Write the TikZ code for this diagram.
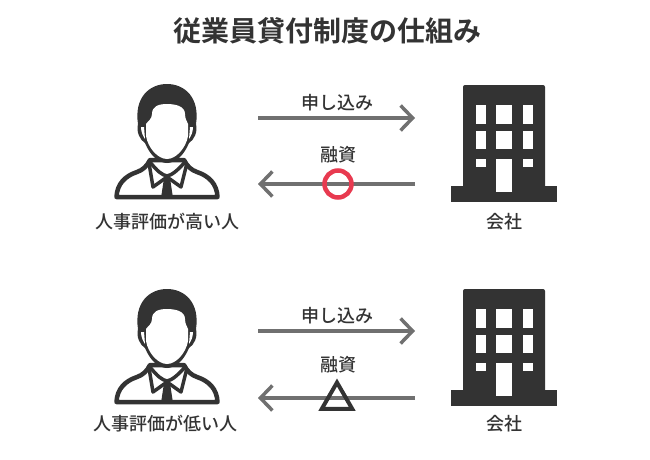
\documentclass[tikz,border=0pt]{standalone}
\usepackage{fontspec}
\setmainfont{Noto Sans CJK JP Medium}
\newfontfamily\boldjp{Noto Sans CJK JP Bold}
\usetikzlibrary{arrows.meta,shapes.geometric}
\pgfdeclarelayer{edgelayer}
\pgfdeclarelayer{nodelayer}
\pgfsetlayers{edgelayer,nodelayer,main}
\definecolor{ink}{HTML}{333333}
\definecolor{arrowgray}{HTML}{707070}
\definecolor{ringred}{HTML}{E83A50}
\tikzstyle{none}=[inner sep=0pt]
\tikzstyle{label}=[inner sep=0pt,text=ink,font=\fontsize{18}{18}\selectfont]
\tikzstyle{title}=[inner sep=0pt,text=ink,font=\boldjp\fontsize{28}{28}\selectfont]
\tikzstyle{flow}=[draw=arrowgray,line width=3.5pt,-{Straight Barb[length=12pt,width=25pt,line width=3.5pt]}]
\tikzstyle{ring}=[circle,draw=ringred,line width=4.5pt,minimum size=27pt,inner sep=0pt]
\tikzstyle{tri}=[regular polygon,regular polygon sides=3,draw=ink,line width=4pt,minimum size=35pt,inner sep=0pt]
\tikzset{
	pics/person/.style={code={
		\draw[ink,fill=white,line width=4.5pt,line join=round] (-17,76) .. controls (-20,82) and (-24,86) .. (-30,88) .. controls (-42,92) and (-50,100) .. (-50.5,113) -- (50.5,113) .. controls (50,100) and (42,92) .. (30,88) .. controls (24,86) and (20,82) .. (17,76) -- cycle;
		\draw[ink,line width=3.5pt,line join=round] (-18,79) -- (-14,103) -- (0,93) -- (14,103) -- (20,79);
		\draw[ink,line width=3.5pt] (-17,78) .. controls (-10,87) and (-5,91) .. (0,92) .. controls (5,91) and (10,87) .. (18,78);
		\fill[ink] (-3,94) -- (3,94) -- (6,114) -- (-6,114) -- cycle;
		\fill[ink] (-29,40) .. controls (-33,14) and (-18,0) .. (0,0) .. controls (18,0) and (33,14) .. (29,40) .. controls (31,48) and (27,56) .. (22,59) .. controls (17,71) and (9,79) .. (0,79) .. controls (-9,79) and (-17,71) .. (-22,59) .. controls (-27,56) and (-31,48) .. (-29,40) -- cycle;
		\fill[white] (-15,30) .. controls (-15,22) and (-8,20) .. (0,20) .. controls (8,20) and (18,22) .. (18,30) .. controls (18,35) and (20,37) .. (21,40) -- (21,52) .. controls (19,64) and (9,75) .. (0,75) .. controls (-9,75) and (-19,64) .. (-21,52) -- (-21,40) .. controls (-19,37) and (-15,35) .. (-15,30) -- cycle;
		\fill[white] (-26,43) .. controls (-26,48) and (-24,52) .. (-22,55) -- (-23,43) -- cycle;
		\fill[white] (26,43) .. controls (26,48) and (24,52) .. (22,55) -- (23,43) -- cycle;
	}},
	pics/office/.style={code={
		\fill[ink,rounded corners=2pt] (12,110) -- (12,0) -- (94,0) -- (94,110) -- cycle;
		\fill[ink] (0,101) rectangle (106,117);
		\foreach \xa/\xb in {25/35,45/61,72/82}{
			\fill[white] (\xa,20) rectangle (\xb,39);
			\fill[white] (\xa,46) rectangle (\xb,64);
		}
		\fill[white] (25,74) rectangle (35,82);
		\fill[white] (72,74) rectangle (82,82);
		\fill[white] (45,74) rectangle (61,107);
	}}
}

\begin{document}
\begin{tikzpicture}[x=1pt,y=-1pt]
	\useasboundingbox (0,0) rectangle (650,460);
	\begin{pgfonlayer}{nodelayer}
		\node [style=title] (0) at (327, 31) {従業員貸付制度の仕組み};
		\pic at (167, 84) {person};
		\pic at (451, 85) {office};
		\node [style=label] (1) at (167, 222) {人事評価が高い人};
		\node [style=label] (2) at (504, 222) {会社};
		\node [style=label] (3) at (337, 103) {申し込み};
		\node [style=label] (4) at (338, 155) {融資};
		\node [style=none] (5) at (258, 118) {};
		\node [style=none] (6) at (415, 118) {};
		\node [style=none] (7) at (415, 184) {};
		\node [style=none] (8) at (258, 184) {};
		\node [style=ring] (9) at (338, 184) {};
		\pic at (167, 289) {person};
		\pic at (451, 289) {office};
		\node [style=label] (10) at (165, 424) {人事評価が低い人};
		\node [style=label] (11) at (504, 424) {会社};
		\node [style=label] (12) at (337, 316) {申し込み};
		\node [style=label] (13) at (338, 365) {融資};
		\node [style=none] (14) at (258, 331) {};
		\node [style=none] (15) at (415, 331) {};
		\node [style=none] (16) at (415, 398) {};
		\node [style=none] (17) at (258, 398) {};
		\node [style=tri] (18) at (337, 400) {};
	\end{pgfonlayer}
	\begin{pgfonlayer}{edgelayer}
		\draw [style=flow] (5.center) to (6.center);
		\draw [style=flow] (7.center) to (8.center);
		\draw [style=flow] (14.center) to (15.center);
		\draw [style=flow] (16.center) to (17.center);
	\end{pgfonlayer}
\end{tikzpicture}
\end{document}
